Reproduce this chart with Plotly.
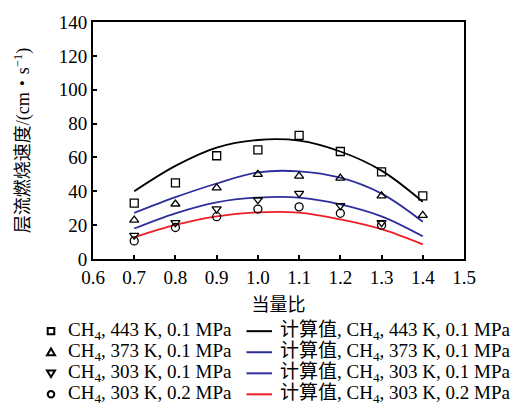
import plotly.graph_objects as go

# Equivalence ratio (x) and laminar burning velocity (cm/s)
phi = [0.7, 0.8, 0.9, 1.0, 1.1, 1.2, 1.3, 1.4]

# Measured values
exp_443_01 = [33, 45, 61, 64.5, 73, 63.5, 51.5, 37.3]
exp_373_01 = [23, 32.5, 42, 50, 49, 47.8, 37.3, 25.8]
exp_303_01 = [14, 21.5, 29.6, 35, 38.8, 31.5, 21.5, None]
exp_303_02 = [10.7, 18.6, 25, 29.5, 30.8, 27, 20, None]

# Calculated values
calc_443_01 = [40, 55, 65.8, 70.3, 69.9, 63.5, 52.2, 33.8]
calc_373_01 = [27.2, 36.5, 44.6, 51.2, 51.8, 48.0, 38.6, 22.0]
calc_303_01 = [18, 27, 33.5, 36.3, 36.3, 32.3, 25.2, 13.4]
calc_303_02 = [12.8, 20.1, 25.2, 27.6, 27.4, 23.4, 17.6, 8.6]

exp_labels = ["CH<sub>4</sub>, 443 K, 0.1 MPa", "CH<sub>4</sub>, 373 K, 0.1 MPa",
              "CH<sub>4</sub>, 303 K, 0.1 MPa", "CH<sub>4</sub>, 303 K, 0.2 MPa"]
calc_labels = ["计算值, " + s for s in exp_labels]

x_ticks = [0.6, 0.7, 0.8, 0.9, 1.0, 1.1, 1.2, 1.3, 1.4, 1.5]
x_tick_text = ["0.6", "0.7", "0.8", "0.9", "1.0", "1.1", "1.2", "1.3", "1.4", "1.5"]
y_ticks = [0, 20, 40, 60, 80, 100, 120, 140]

W, H = 512, 412
L, R, T, B = 93, 48, 15, 153
PW, PH = W - L - R, H - T - B

FONT = "Liberation Serif, Times New Roman, Noto Sans CJK SC, serif"
line_colors = ["#000000", "#2e2e9c", "#2e2e9c", "#ee1c24"]
symbols = ["square-open", "triangle-up-open", "triangle-down-open", "circle-open"]

exp_sets = [exp_443_01, exp_373_01, exp_303_01, exp_303_02]
calc_sets = [calc_443_01, calc_373_01, calc_303_01, calc_303_02]

fig = go.Figure()
for ys, c in zip(calc_sets, line_colors):
    fig.add_trace(go.Scatter(x=phi, y=ys, mode="lines", line=dict(color=c, width=1.8, shape="spline"),
                             showlegend=False))
for ys, s in zip(exp_sets, symbols):
    fig.add_trace(go.Scatter(x=phi, y=ys, mode="markers",
                             marker=dict(symbol=s, size=8, color="black", line=dict(width=1.3, color="black")),
                             showlegend=False))


def px(xp):
    return (xp - L) / PW


def py(yp):
    return (H - B - yp) / PH


# Two-column key below the axes
rows = [333.3, 355, 376.7, 398.3]
shapes = []
annotations = []
mx, tx1, lx0, lx1, tx2 = 51, 66, 246.5, 272, 278
s = 3.3
for i, yr in enumerate(rows):
    if i == 0:
        shapes.append(dict(type="rect", xref="paper", yref="paper", x0=px(mx - s), x1=px(mx + s),
                           y0=py(yr - s), y1=py(yr + s), line=dict(color="black", width=2)))
    elif i == 1:
        path = "M {} {} L {} {} L {} {} Z".format(px(mx - 4), py(yr + 3), px(mx + 4), py(yr + 3), px(mx), py(yr - 3.8))
        shapes.append(dict(type="path", xref="paper", yref="paper", path=path, line=dict(color="black", width=2)))
    elif i == 2:
        path = "M {} {} L {} {} L {} {} Z".format(px(mx - 4), py(yr - 3), px(mx + 4), py(yr - 3), px(mx), py(yr + 3.8))
        shapes.append(dict(type="path", xref="paper", yref="paper", path=path, line=dict(color="black", width=2)))
    else:
        shapes.append(dict(type="circle", xref="paper", yref="paper", x0=px(mx - s), x1=px(mx + s),
                           y0=py(yr - s), y1=py(yr + s), line=dict(color="black", width=2)))
    shapes.append(dict(type="line", xref="paper", yref="paper", x0=px(lx0), x1=px(lx1), y0=py(yr), y1=py(yr),
                       line=dict(color=line_colors[i], width=2)))
    annotations.append(dict(text=exp_labels[i], xref="paper", yref="paper", x=px(tx1), y=py(yr),
                            xanchor="left", yanchor="middle", showarrow=False,
                            font=dict(family=FONT, size=19, color="black")))
    annotations.append(dict(text=calc_labels[i], xref="paper", yref="paper", x=px(tx2), y=py(yr),
                            xanchor="left", yanchor="middle", showarrow=False,
                            font=dict(family=FONT, size=19, color="black")))

fig.update_layout(
    width=W, height=H,
    margin=dict(l=L, r=R, t=T, b=B),
    paper_bgcolor="white", plot_bgcolor="white",
    font=dict(family=FONT, size=19, color="black"),
    shapes=shapes,
    annotations=annotations,
    xaxis=dict(range=[0.6, 1.5], tickvals=x_ticks, ticktext=x_tick_text, ticks="inside", ticklen=4,
               tickwidth=1.5, tickcolor="black", showline=True, linecolor="black", linewidth=2, mirror=True,
               showgrid=False, zeroline=False, tickfont=dict(size=19),
               title=dict(text="当量比", font=dict(size=18), standoff=12)),
    yaxis=dict(range=[0, 140], tickvals=y_ticks, ticks="inside", ticklen=4,
               tickwidth=1.5, tickcolor="black", showline=True, linecolor="black", linewidth=2, mirror=True,
               showgrid=False, zeroline=False, tickfont=dict(size=19),
               title=dict(text="层流燃烧速度/(cm・s<sup>−1</sup>)", font=dict(size=18), standoff=24)),
)

fig.write_html("out.html")
